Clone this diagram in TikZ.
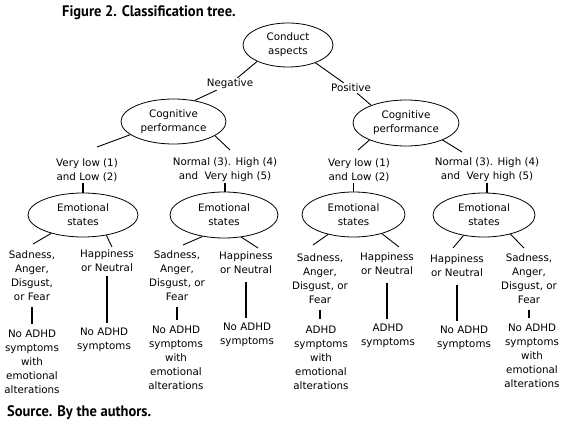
\documentclass[tikz,border=0pt]{standalone}
\usepackage{fontspec}
\setmainfont{DejaVu Sans}
\newfontfamily\titlefont{PT Sans}
\usetikzlibrary{shapes.geometric}
\begin{document}
\begin{tikzpicture}[x=1pt,y=-1pt,
  txt/.style={font=\fontsize{10.3}{14}\selectfont, align=center, inner sep=1pt},
  oval/.style={ellipse, draw, line width=0.8pt, inner sep=0pt, align=center, font=\fontsize{10.3}{14}\selectfont},
  conn/.style={line width=0.9pt},
  vconn/.style={line width=1.6pt},
  heading/.style={anchor=west, inner sep=0pt, font=\titlefont\bfseries\fontsize{14.5}{17}\selectfont}]
\useasboundingbox (0,0) rectangle (569,438);

\node[heading] (title) at (62,13) {\scalebox{1.0}[1.05]{Figure 2. Classification tree.}};
\node[heading] (source) at (7,413) {\scalebox{1.0}[1.05]{Source. By the authors.}};

% level 0 / 1
\node[oval, minimum width=90pt, minimum height=44pt] (root) at (288,45) {Conduct\\aspects};
\node[txt] (neg) at (230,84) {Negative};
\node[txt] (pos) at (351,88) {Positive};
\node[oval, minimum width=105pt, minimum height=45pt] (cogL) at (173.5,121.5) {Cognitive\\performance};
\node[oval, minimum width=106pt, minimum height=46pt] (cogR) at (406,123) {Cognitive\\performance};
\draw[conn] (root.208) -- (neg);
\draw[conn] (neg) -- (cogL.45);
\draw[conn] (root.327) -- (pos);
\draw[conn] (pos) -- (cogR.153);

% level 2
\node[txt] (vl1) at (87,170) {Very low (1)\\and Low (2)};
\node[txt] (nh1) at (225,170) {Normal (3). High (4)\\and\ \ Very high (5)};
\node[txt] (vl2) at (359,170) {Very low (1)\\and Low (2)};
\node[txt] (nh2) at (487,170) {Normal (3). High (4)\\and\ \ Very high (5)};
\coordinate (e1) at (97,147);
\coordinate (e2) at (230,150);
\coordinate (e3) at (358,150);
\coordinate (e4) at (462,152);
\draw[conn] (cogL.197) -- (e1);
\draw[conn] (cogL.341) -- (e2);
\draw[conn] (cogR.205) -- (e3);
\draw[conn] (cogR.335) -- (e4);

% emotional states
\node[oval, minimum width=110pt, minimum height=44pt] (emo1) at (83,215) {Emotional\\states};
\node[oval, minimum width=108pt, minimum height=46pt] (emo2) at (224,215) {Emotional\\states};
\node[oval, minimum width=103pt, minimum height=45pt] (emo3) at (353.5,214.5) {Emotional\\states};
\node[oval, minimum width=102pt, minimum height=44pt] (emo4) at (484,215) {Emotional\\states};
\draw[vconn] (emo1.north) -- (emo1.north |- vl1.south);
\draw[vconn] (nh1.south) -- (nh1.south |- emo2.north);
\draw[vconn] (emo3.north) -- (emo3.north |- vl2.south);
\draw[vconn] (nh2.south) -- (nh2.south |- emo4.north);

\coordinate (f1) at (33,244);
\coordinate (f2) at (112,247);
\coordinate (f3) at (183,245);
\coordinate (f4) at (258,248);
\coordinate (f5) at (313,245);
\coordinate (f6) at (399,247);
\coordinate (f7) at (453,248);
\coordinate (f8) at (524,248);
\draw[conn] (emo1.210) -- (f1);
\draw[conn] (emo1.319) -- (f2);
\draw[conn] (emo2.225) -- (f3);
\draw[conn] (emo2.308) -- (f4);
\draw[conn] (emo3.218) -- (f5);
\draw[conn] (emo3.326) -- (f6);
\draw[conn] (emo4.225) -- (f7);
\draw[conn] (emo4.324) -- (f8);

% leaves
\node[txt] (s1) at (32,276) {Sadness,\\Anger,\\Disgust,\\or Fear};
\node[txt] (h1) at (107,260.5) {Happiness\\or Neutral};
\node[txt] (s2) at (177,276) {Sadness,\\Anger,\\Disgust, or\\Fear};
\node[txt] (h2) at (246,263) {Happiness\\or Neutral};
\node[txt] (s3) at (320,278.5) {Sadness,\\Anger,\\Disgust, or\\Fear};
\node[txt] (h3) at (387,264) {Happiness\\or Neutral};
\node[txt] (h4) at (457,265.5) {Happiness\\or Neutral};
\node[txt] (s4) at (529,278.5) {Sadness,\\Anger,\\Disgust, or\\Fear};

% outcomes
\node[txt] (o1) at (32,362) {No ADHD\\symptoms\\with\\emotional\\alterations};
\node[txt] (o2) at (104,340) {No ADHD\\symptoms};
\node[txt] (o3) at (176,358) {No ADHD\\symptoms\\with\\emotional\\alterations};
\node[txt] (o4) at (247,335) {No ADHD\\symptoms};
\node[txt] (o5) at (321,357.5) {ADHD\\symptoms\\with\\emotional\\alterations};
\node[txt] (o6) at (388,336) {ADHD\\symptoms};
\node[txt] (o7) at (464,338) {No ADHD\\symptoms};
\node[txt] (o8) at (532,356) {No ADHD\\symptoms\\with\\emotional\\alterations};

\draw[vconn, shorten <=5pt, shorten >=5pt] (s1.south) -- (s1.south |- o1.north);
\draw[vconn, shorten <=3pt, shorten >=4pt] (h1.south) -- (h1.south |- o2.north);
\draw[vconn, shorten <=5pt, shorten >=5pt] (s2.south) -- (s2.south |- o3.north);
\draw[vconn, shorten <=7pt, shorten >=4pt] (h2.south) -- (h2.south |- o4.north);
\draw[vconn, shorten <=5pt, shorten >=5pt] (s3.south) -- (s3.south |- o5.north);
\draw[vconn, shorten <=7pt, shorten >=4pt] (h3.south) -- (h3.south |- o6.north);
\draw[vconn, shorten <=7pt, shorten >=4pt] (h4.south) -- (h4.south |- o7.north);
\draw[vconn, shorten <=5pt, shorten >=5pt] (s4.south) -- (s4.south |- o8.north);
\end{tikzpicture}
\end{document}
